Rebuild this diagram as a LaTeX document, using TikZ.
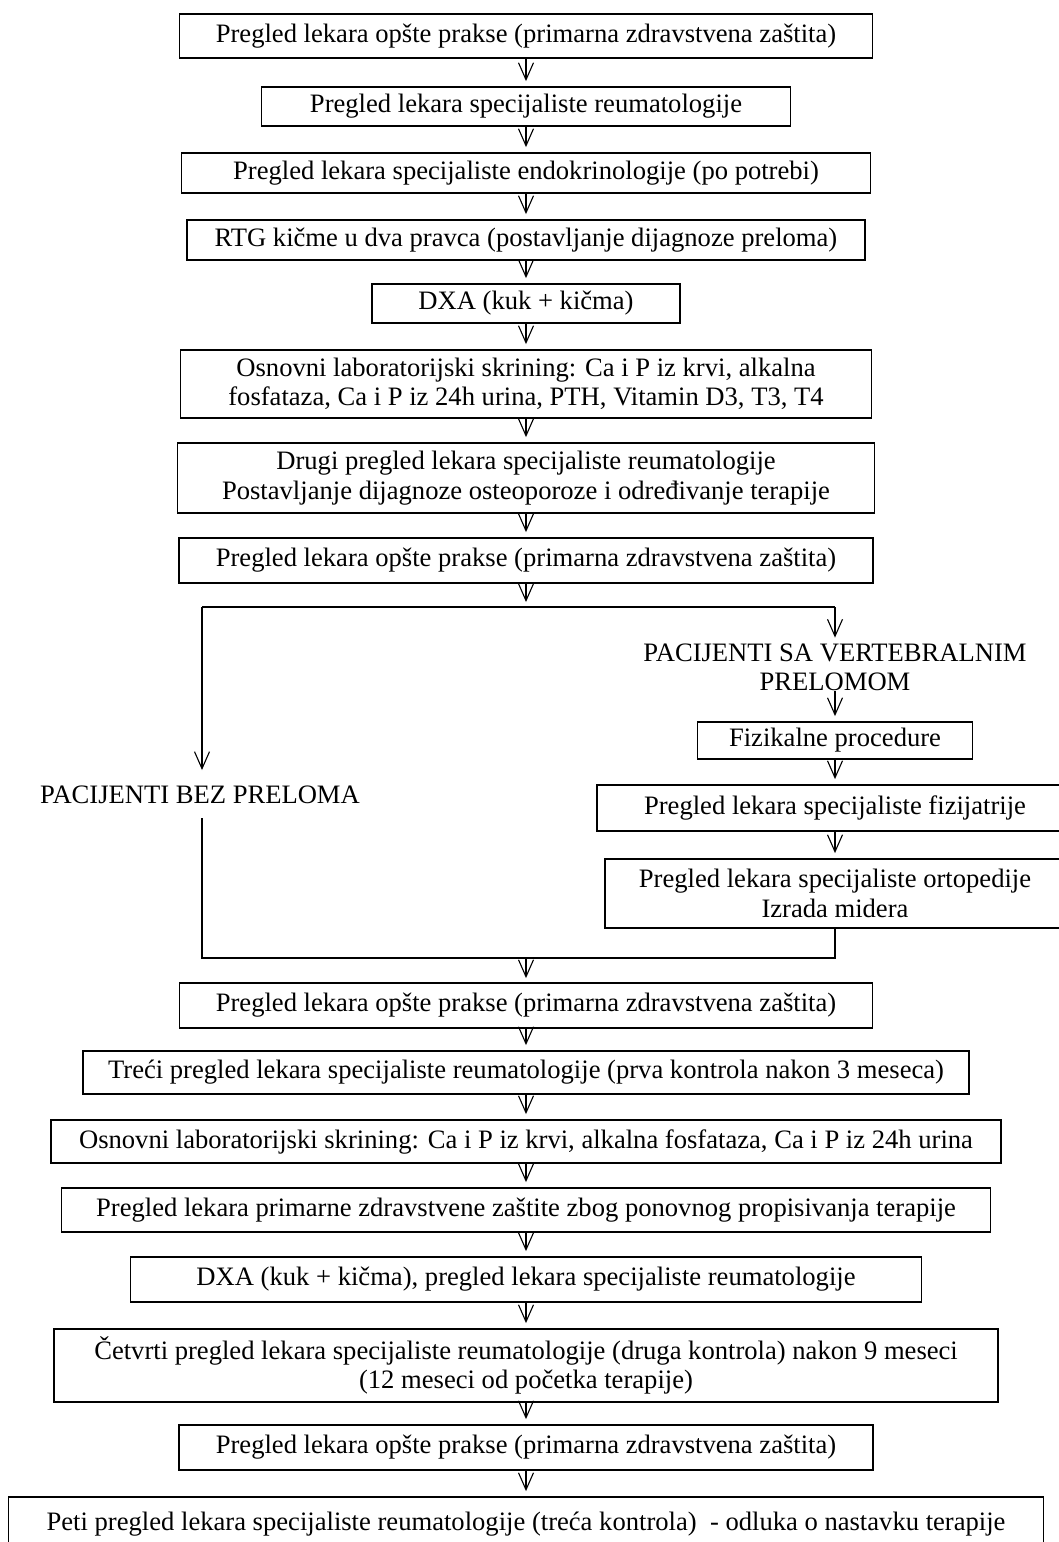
\documentclass[tikz,border=0pt]{standalone}
\usepackage{fontspec}
\setmainfont{Liberation Serif}
\usetikzlibrary{arrows.meta}
\begin{document}
\begin{tikzpicture}[x=1pt,y=-1pt,
  txt/.style={font=\fontsize{26.6pt}{29.5pt}\selectfont},
  box/.style={txt, draw, line width=1.8pt, inner sep=0pt, align=center},
  lbl/.style={txt, inner sep=0pt, align=center},
  ln/.style={line width=1.1pt},
  arr/.style={line width=1.1pt, -{Straight Barb[length=17pt,width=15pt,line width=1.1pt]}, shorten >=5pt}]
\useasboundingbox (0,0) rectangle (1058,1542);
\fill[white] (0,0) rectangle (1058,1542);

% main column
\node[box, minimum width=693pt, minimum height=44pt] (b1) at (526,36) {Pregled lekara opšte prakse (primarna zdravstvena zaštita)};
\node[box, minimum width=529pt, minimum height=39pt] (b2) at (526,106.5) {Pregled lekara specijaliste reumatologije};
\node[box, minimum width=689pt, minimum height=40pt] (b3) at (526,173) {Pregled lekara specijaliste endokrinologije (po potrebi)};
\node[box, minimum width=678pt, minimum height=40pt] (b4) at (526,240) {RTG kičme u dva pravca (postavljanje dijagnoze preloma)};
\node[box, minimum width=308pt, minimum height=39pt] (b5) at (526,303.5) {DXA (kuk + kičma)};
\node[box, minimum width=691pt, minimum height=68pt] (b6) at (526,384) {Osnovni laboratorijski skrining: Ca i P iz krvi, alkalna\\fosfataza, Ca i P iz 24h urina, PTH, Vitamin D3, T3, T4};
\node[box, minimum width=697pt, minimum height=70pt] (b7) at (526,478) {Drugi pregled lekara specijaliste reumatologije\\Postavljanje dijagnoze osteoporoze i određivanje terapije};
\node[box, minimum width=694pt, minimum height=45pt] (b8) at (526,560.5) {Pregled lekara opšte prakse (primarna zdravstvena zaštita)};

\draw[arr] (b1.south) -- (b2.north);
\draw[arr] (b2.south) -- (b3.north);
\draw[arr] (b3.south) -- (b4.north);
\draw[arr] (b4.south) -- (b5.north);
\draw[arr] (b5.south) -- (b6.north);
\draw[arr] (b6.south) -- (b7.north);
\draw[arr] (b7.south) -- (b8.north);

% branch
\coordinate (L1) at (202,607);
\coordinate (R1) at (835,607);
\coordinate (M1) at (526,607);
\coordinate (Ltip) at (202,770);
\coordinate (Lstart) at (202,818);
\coordinate (L2) at (202,958);
\coordinate (R2) at (835,958);
\coordinate (M2) at (526,958);

\draw[ln] (L1) -- (R1);
\draw[arr] (b8.south) -- (M1);

\node[lbl] (sa) at (835,667.5) {PACIJENTI SA VERTEBRALNIM\\PRELOMOM};
\node[box, minimum width=275pt, minimum height=37pt] (fiz) at (835,740.5) {Fizikalne procedure};
\node[box, minimum width=476pt, minimum height=46pt] (fzt) at (835,808) {Pregled lekara specijaliste fizijatrije};
\node[box, minimum width=460pt, minimum height=69pt] (ort) at (835,893.5) {Pregled lekara specijaliste ortopedije\\Izrada midera};
\node[lbl] (bez) at (200,795) {PACIJENTI BEZ PRELOMA};

\draw[arr, shorten >=6pt] (R1) -- (sa.north -| R1);
\draw[arr] (sa.south -| fiz.north) -- (fiz.north);
\draw[arr] (fiz.south) -- (fzt.north);
\draw[arr] (fzt.south) -- (ort.north);
\draw[arr, shorten >=0pt] (L1) -- (Ltip);
\draw[ln] (Lstart) -- (L2) -- (R2) -- (ort.south -| R2);

% lower column
\node[box, minimum width=693pt, minimum height=45pt] (b9) at (526,1005.5) {Pregled lekara opšte prakse (primarna zdravstvena zaštita)};
\node[box, minimum width=886pt, minimum height=43pt] (b10) at (526,1072.5) {Treći pregled lekara specijaliste reumatologije (prva kontrola nakon 3 meseca)};
\node[box, minimum width=950pt, minimum height=43pt] (b11) at (526,1141.5) {Osnovni laboratorijski skrining: Ca i P iz krvi, alkalna fosfataza, Ca i P iz 24h urina};
\node[box, minimum width=929pt, minimum height=44pt] (b12) at (526,1210) {Pregled lekara primarne zdravstvene zaštite zbog ponovnog propisivanja terapije};
\node[box, minimum width=791pt, minimum height=45pt] (b13) at (526,1279.5) {DXA (kuk + kičma), pregled lekara specijaliste reumatologije};
\node[box, minimum width=944pt, minimum height=73pt] (b14) at (526,1365.5) {Četvrti pregled lekara specijaliste reumatologije (druga kontrola) nakon 9 meseci\\(12 meseci od početka terapije)};
\node[box, minimum width=694pt, minimum height=45pt] (b15) at (526,1447.5) {Pregled lekara opšte prakse (primarna zdravstvena zaštita)};
\node[box, minimum width=1035pt, minimum height=54pt] (b16) at (526,1524) {Peti pregled lekara specijaliste reumatologije (treća kontrola) \ - odluka o nastavku terapije};

\draw[arr, shorten >=4pt] (M2) -- (b9.north);
\draw[arr] (b9.south) -- (b10.north);
\draw[arr] (b10.south) -- (b11.north);
\draw[arr] (b11.south) -- (b12.north);
\draw[arr] (b12.south) -- (b13.north);
\draw[arr] (b13.south) -- (b14.north);
\draw[arr] (b14.south) -- (b15.north);
\draw[arr] (b15.south) -- (b16.north);
\end{tikzpicture}
\end{document}
